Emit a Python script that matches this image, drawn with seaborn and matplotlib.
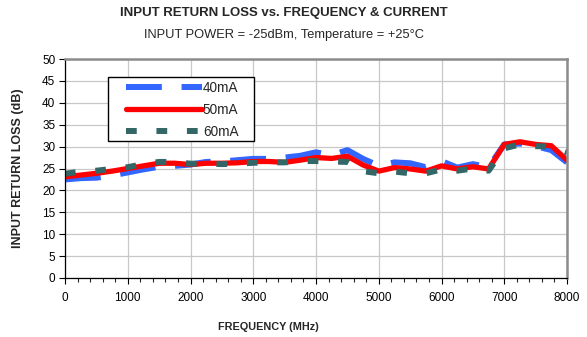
import numpy as np
import pandas as pd
import matplotlib
matplotlib.use("Agg")
import matplotlib.pyplot as plt
from matplotlib.ticker import MultipleLocator
from matplotlib.patches import Rectangle
import seaborn as sns

# Input return loss (dB) vs frequency (MHz) at three bias currents
freq_mhz = [0, 250, 500, 750, 1000, 1250, 1500, 1750, 2000, 2250, 2500, 2750,
            3000, 3250, 3500, 3750, 4000, 4250, 4500, 4750, 5000, 5250, 5500,
            5750, 6000, 6250, 6500, 6750, 7000, 7250, 7500, 7750, 8000]
rl_40ma = [22.5, 22.8, 22.9, 23.4, 24.1, 24.8, 25.4, 25.6, 25.9, 26.5, 26.6, 26.9,
           27.2, 27.2, 27.5, 27.9, 28.7, 28.0, 29.2, 27.2, 25.6, 26.4, 26.2,
           25.3, 26.7, 25.2, 26.0, 25.3, 30.5, 30.7, 30.1, 29.2, 26.4]
rl_50ma = [23.1, 23.5, 23.9, 24.4, 25.0, 25.6, 26.2, 26.2, 25.9, 26.2, 26.2, 26.3,
           26.6, 26.6, 26.4, 26.9, 27.5, 27.3, 27.8, 25.8, 24.4, 25.2, 24.9,
           24.4, 25.6, 24.9, 25.4, 24.9, 30.5, 31.1, 30.5, 30.2, 26.9]
rl_60ma = [23.8, 24.3, 24.5, 24.9, 25.3, 26.0, 26.5, 26.5, 26.1, 26.1, 26.0, 26.1,
           26.3, 26.4, 26.4, 26.7, 26.7, 26.6, 26.5, 24.4, 23.9, 24.3, 23.9,
           23.9, 24.8, 24.5, 25.0, 24.5, 29.6, 30.5, 30.1, 30.0, 28.7]
series_labels = ["40mA", "50mA", "60mA"]

x_ticks = [0, 1000, 2000, 3000, 4000, 5000, 6000, 7000, 8000]
y_ticks = [0, 5, 10, 15, 20, 25, 30, 35, 40, 45, 50]

sns.set_theme(style="white")
plt.rcParams["font.family"] = ["Liberation Sans", "DejaVu Sans"]

df = pd.DataFrame({
    "freq": freq_mhz * 3,
    "rl": rl_40ma + rl_50ma + rl_60ma,
    "current": [series_labels[0]] * len(freq_mhz)
               + [series_labels[1]] * len(freq_mhz)
               + [series_labels[2]] * len(freq_mhz),
})

W, H = 587, 337
fig = plt.figure(figsize=(W / 100, H / 100), dpi=100)
ax = fig.add_axes([65 / W, 1 - 278 / H, 502 / W, 219 / H])

styles = {
    "40mA": dict(color="#3366FF", lw=4.3, linestyle=(0, (6.0, 3.3)),
                 dash_capstyle="butt"),
    "50mA": dict(color="#FF0000", lw=3.8, linestyle="-",
                 solid_capstyle="round", solid_joinstyle="round"),
    "60mA": dict(color="#336666", lw=4.3, linestyle=(0, (1.8, 3.3)),
                 dash_capstyle="butt"),
}
for label in series_labels:
    sub = df[df["current"] == label]
    sns.lineplot(data=sub, x="freq", y="rl", ax=ax, label=label,
                 estimator=None, **styles[label])

ax.set_xlim(0, 8000)
ax.set_ylim(0, 50)
ax.set_xticks(x_ticks)
ax.set_yticks(y_ticks)
ax.xaxis.set_minor_locator(MultipleLocator(200))
ax.grid(True, which="major", color="#C8C8C8", lw=0.9)
ax.set_axisbelow(True)

ax.tick_params(axis="both", which="major", labelsize=8.5, colors="black",
               length=4, width=0.8, direction="out", pad=3)
ax.tick_params(axis="x", which="minor", length=3, width=0.8, direction="out",
               bottom=True)
ax.tick_params(axis="x", which="major", pad=6)
ax.tick_params(left=True, bottom=True)

for side in ["left", "bottom"]:
    ax.spines[side].set_color("black")
    ax.spines[side].set_linewidth(0.9)
for side in ["top", "right"]:
    ax.spines[side].set_color("#8C8C8C")
    ax.spines[side].set_linewidth(1.8)

ax.set_xlabel("")
ax.set_ylabel("")
fig.text(268 / W, 1 - 327 / H, "FREQUENCY (MHz)", ha="center", va="center",
         fontsize=7.8, fontweight="bold")
fig.text(18 / W, 1 - 168 / H, "INPUT RETURN LOSS (dB)", ha="center",
         va="center", rotation=90, fontsize=9.0, fontweight="bold")

fig.text(284 / W, 1 - 13 / H, "INPUT RETURN LOSS vs. FREQUENCY & CURRENT",
         ha="center", va="center", fontsize=9.5, fontweight="bold")
fig.text(284 / W, 1 - 35 / H, "INPUT POWER = -25dBm, Temperature = +25°C",
         ha="center", va="center", fontsize=9.3)

# legend box drawn as its own patch, wider than the entries
box = Rectangle((108 / W, 1 - 141 / H), 146 / W, 64 / H,
                transform=fig.transFigure, facecolor="white",
                edgecolor="black", lw=1.0, zorder=4)
ax.add_artist(box)
leg = ax.legend(loc="upper left", bbox_to_anchor=(126 / W, 1 - 81 / H),
                bbox_transform=fig.transFigure, borderaxespad=0, borderpad=0,
                fontsize=9.8, frameon=False, handlelength=5.6,
                handletextpad=0.05, labelspacing=0.57)
leg.set_zorder(5)

fig.savefig("out.png", dpi=100)
